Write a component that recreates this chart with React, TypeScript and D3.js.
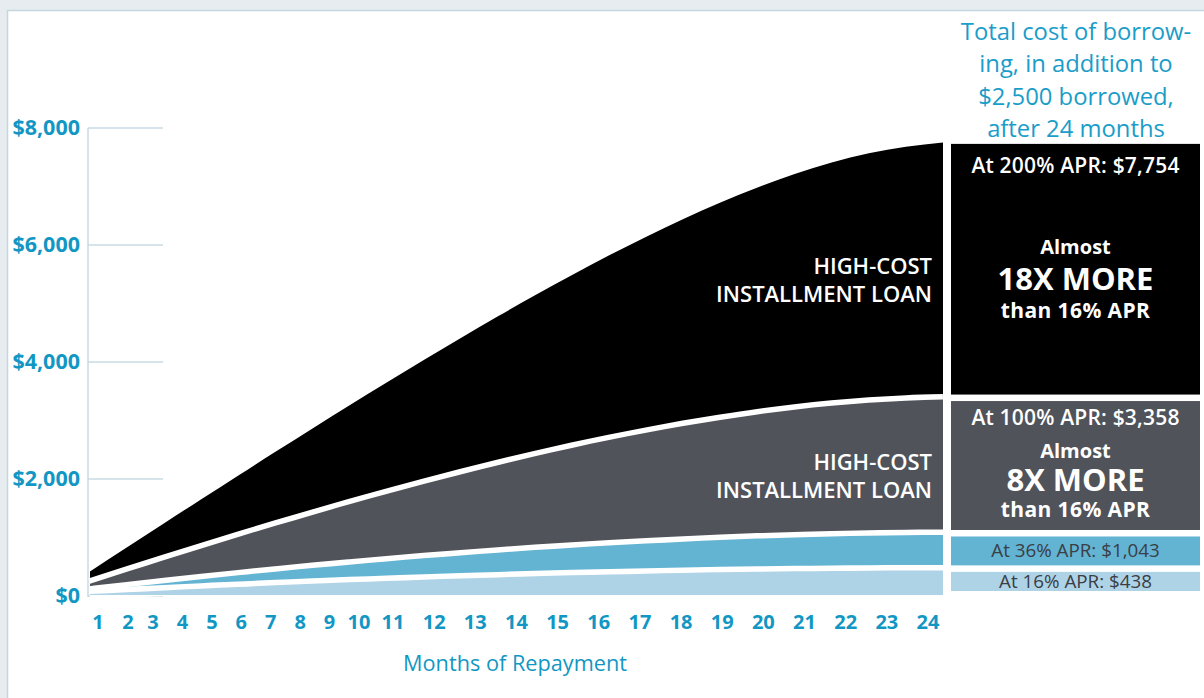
import React from 'react';
import * as d3 from 'd3';

// ---- data ----
const months = [1, 2, 3, 4, 5, 6, 7, 8, 9, 10, 11, 12, 13, 14, 15, 16, 17, 18, 19, 20, 21, 22, 23, 24];
const apr200 = [417, 832, 1244, 1654, 2061, 2465, 2865, 3261, 3651, 4035, 4412, 4781, 5140, 5488, 5823, 6143, 6445, 6727, 6985, 7214, 7410, 7568, 7680, 7754];
const apr100 = [208, 414, 616, 814, 1009, 1200, 1386, 1568, 1744, 1915, 2079, 2237, 2388, 2531, 2665, 2790, 2906, 3010, 3104, 3184, 3251, 3303, 3339, 3358];
const apr36 = [75, 148, 218, 287, 353, 416, 477, 535, 591, 644, 694, 741, 785, 826, 864, 898, 929, 957, 981, 1001, 1018, 1030, 1039, 1043];
const apr16 = [33, 65, 96, 126, 155, 182, 208, 233, 256, 278, 299, 318, 336, 353, 368, 382, 394, 405, 414, 422, 428, 433, 436, 438];
const yTicks = [0, 2000, 4000, 6000, 8000];
const seriesNames = ['200%', '100%', '36%', '16%'];
const multipliers = ['18X MORE', '8X MORE', '', ''];
const areaLabel = ['HIGH-COST', 'INSTALLMENT LOAN'];
const titleLines = ['Total cost of borrow-', 'ing, in addition to', '$2,500 borrowed,', 'after 24 months'];
const xTitle = 'Months of Repayment';

const FONT = '"Open Sans", sans-serif';
const BLUE_TEXT = '#1297c4';
const fills = ['#000000', '#50535a', '#63b3d3', '#aed3e6'];
const boxText = ['#ffffff', '#ffffff', '#3a3e45', '#3a3e45'];

export default function App() {
  const W = 1204, H = 698;
  const series = [apr200, apr100, apr36, apr16];

  const y = d3.scaleLinear().domain([0, 8000]).range([596, 128]);
  const xArea = d3.scaleLinear().domain([1, 24]).range([90, 943]);
  // tick labels are spaced unevenly in the original artwork
  const xTick = d3.scaleLinear().domain([1, 2, 3, 10, 11, 24]).range([98, 128, 153, 359, 393, 928]);

  const area = (vals: number[]) =>
    d3.area<number>()
      .x((_, i) => xArea(months[i]))
      .y0(y(0) - 1)
      .y1((v) => y(v))
      .curve(d3.curveMonotoneX)(vals) as string;
  const line = (vals: number[]) =>
    d3.line<number>()
      .x((_, i) => xArea(months[i]))
      .y((v) => y(v))
      .curve(d3.curveMonotoneX)(vals) as string;

  const fmt = d3.format('$,');
  const boxX0 = 951, boxX1 = 1200, boxCx = (boxX0 + boxX1) / 2;
  const totals = series.map((s) => s[s.length - 1]);
  const boxTop = totals.map((t) => y(t) + 1.5);
  const boxBot = totals.map((_, i) => (i < totals.length - 1 ? y(totals[i + 1]) - 5 : y(0) - 5));

  return (
    <svg width={W} height={H} style={{ position: 'absolute', left: 0, top: 0 }} fontFamily={FONT}>
      <rect x={0} y={0} width={W} height={H} fill="#e6ecef" />
      <rect x={7.5} y={10.5} width={W} height={H} fill="#ffffff" stroke="#c6d6df" strokeWidth={1.5} />

      {/* y axis */}
      <line x1={88} x2={88} y1={y(8000)} y2={y(0) + 1} stroke="#c8dae3" strokeWidth={1.5} />
      {yTicks.map((t) => (
        <g key={t}>
          <line x1={88} x2={163} y1={y(t)} y2={y(t)} stroke="#c8dae3" strokeWidth={1.5} />
          <text x={80} y={y(t) + 7} textAnchor="end" fontSize={21.5} fontWeight={700} fill={BLUE_TEXT}>{fmt(t)}</text>
        </g>
      ))}

      {/* areas */}
      {series.map((s, i) => (
        <g key={i}>
          {i > 0 && <path d={line(s)} fill="none" stroke="#ffffff" strokeWidth={11} />}
          <path d={area(s)} fill={fills[i]} />
        </g>
      ))}

      {/* area labels */}
      {[0, 1].map((i) => (
        <text key={i} x={932} textAnchor="end" fontSize={22} fontWeight={600} fill="#ffffff">
          <tspan x={932} y={i === 0 ? 274 : 470}>{areaLabel[0]}</tspan>
          <tspan x={932} y={i === 0 ? 302 : 498}>{areaLabel[1]}</tspan>
        </text>
      ))}

      {/* x ticks */}
      {months.map((m) => (
        <text key={m} x={xTick(m)} y={629} textAnchor="middle" fontSize={20} fontWeight={700} fill={BLUE_TEXT}>{m}</text>
      ))}
      <text x={515} y={671} textAnchor="middle" fontSize={21.7} fill={BLUE_TEXT}>{xTitle}</text>

      {/* right panel title */}
      {titleLines.map((t, i) => (
        <text key={i} x={1076} y={40 + i * 32.3} textAnchor="middle" fontSize={23.8} fill="#1a9dc9">{t}</text>
      ))}

      {/* boxes */}
      {series.map((s, i) => {
        const top = boxTop[i], bot = boxBot[i];
        const big = i < 2;
        return (
          <g key={i}>
            <rect x={boxX0} y={top} width={boxX1 - boxX0} height={bot - top} fill={fills[i]} />
            {big ? (
              <>
                <text x={boxCx} y={top + (i === 0 ? 29 : 24)} textAnchor="middle" fontSize={21} fontWeight={600} letterSpacing={0.2} fill={boxText[i]}>
                  {`At ${seriesNames[i]} APR: ${fmt(totals[i])}`}
                </text>
                <text x={boxCx} y={i === 0 ? top + 110 : top + 57} textAnchor="middle" fontSize={20} fontWeight={700} fill={boxText[i]}>Almost</text>
                <text x={boxCx} y={i === 0 ? top + 146 : top + 90} textAnchor="middle" fontSize={31} fontWeight={700} fill={boxText[i]}>{multipliers[i]}</text>
                <text x={boxCx} y={i === 0 ? top + 174 : top + 116} textAnchor="middle" fontSize={21} fontWeight={700} letterSpacing={0.4} fill={boxText[i]}>than 16% APR</text>
              </>
            ) : (
              <text x={boxCx} y={(top + bot) / 2 + 6.5} textAnchor="middle" fontSize={18.8} fill={boxText[i]}>
                {`At ${seriesNames[i]} APR: ${fmt(totals[i])}`}
              </text>
            )}
          </g>
        );
      })}
    </svg>
  );
}
